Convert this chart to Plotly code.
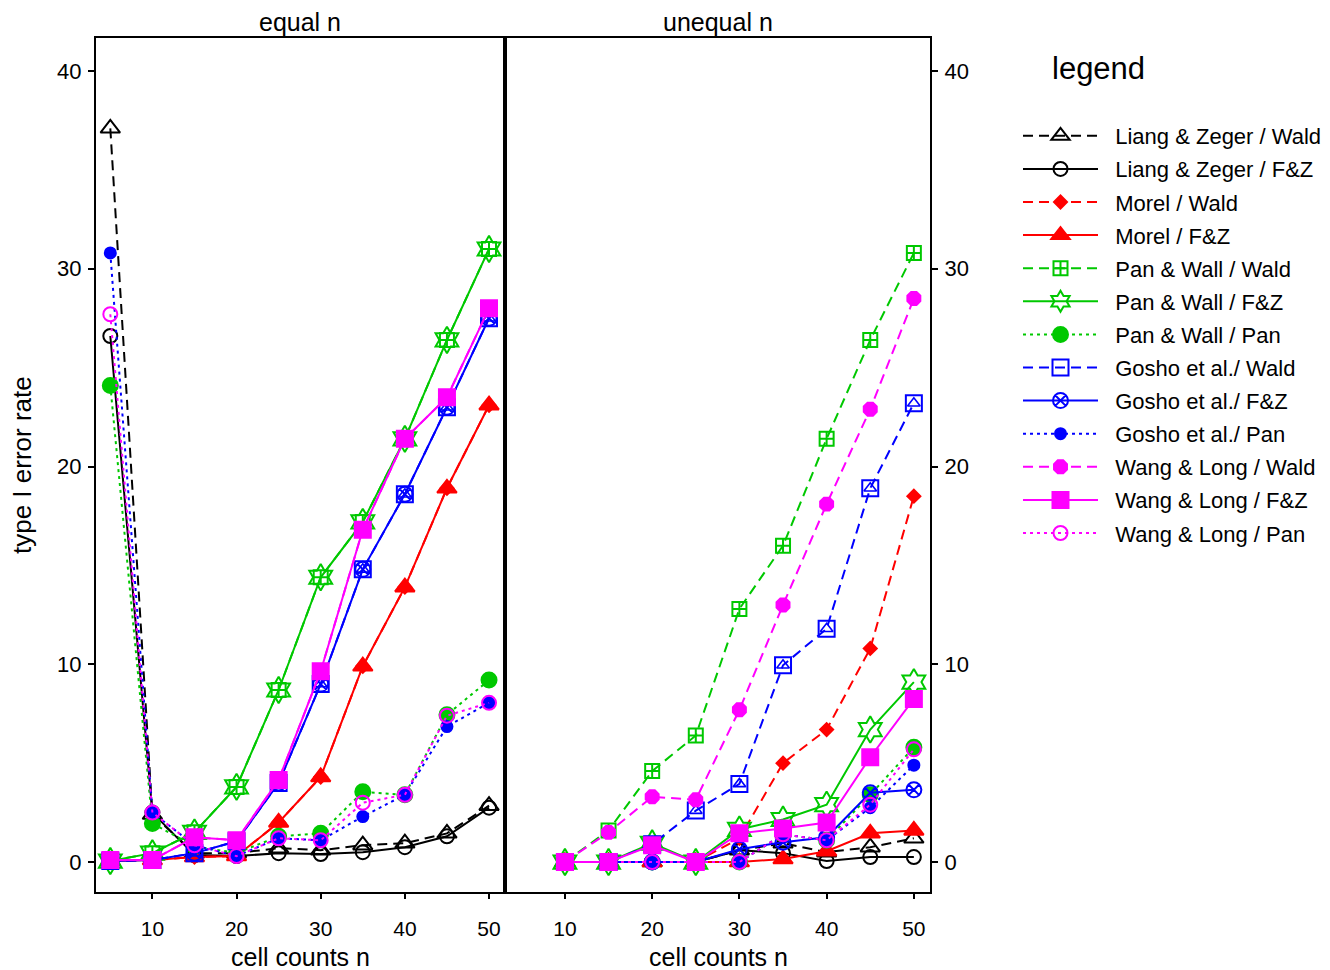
import plotly.graph_objects as go

# ---------------- data ----------------
x_equal = [5, 10, 15, 20, 25, 30, 35, 40, 45, 50]
x_unequal = [10, 15, 20, 25, 30, 35, 40, 45, 50]

# equal n panel
eq_lz_wald = [37.1, 2.4, 0.45, 0.45, 0.7, 0.6, 0.85, 0.95, 1.45, 2.85]
eq_lz_fz = [26.6, 2.5, 0.35, 0.3, 0.45, 0.4, 0.5, 0.75, 1.3, 2.75]
eq_morel_wald = [0.05, 0.1, 0.25, 0.3, 2.0, 4.3, 9.9, 13.9, 18.9, 23.1]
eq_morel_fz = [0.05, 0.1, 0.25, 0.3, 2.0, 4.3, 9.9, 13.9, 18.9, 23.1]
eq_pw_wald = [0.05, 0.45, 1.5, 3.8, 8.7, 14.4, 17.2, 21.4, 26.4, 31.0]
eq_pw_fz = [0.05, 0.45, 1.5, 3.8, 8.7, 14.4, 17.2, 21.4, 26.4, 31.0]
eq_pw_pan = [24.1, 1.95, 0.8, 0.45, 1.3, 1.45, 3.55, 3.4, 7.45, 9.2]
eq_gosho_wald = [0.05, 0.1, 0.45, 1.05, 4.0, 9.0, 14.8, 18.6, 23.0, 27.5]
eq_gosho_fz = [0.05, 0.1, 0.45, 1.05, 4.0, 9.0, 14.8, 18.6, 23.0, 27.5]
eq_gosho_pan = [30.8, 2.5, 0.85, 0.3, 1.2, 1.1, 2.3, 3.4, 6.85, 8.05]
eq_wl_wald = [0.1, 0.1, 1.25, 1.1, 4.15, 9.65, 16.8, 21.4, 23.5, 28.0]
eq_wl_fz = [0.1, 0.1, 1.25, 1.1, 4.15, 9.65, 16.8, 21.4, 23.5, 28.0]
eq_wl_pan = [27.7, 2.5, 0.85, 0.3, 1.2, 1.1, 3.0, 3.4, 7.4, 8.05]

# unequal n panel
un_lz_wald = [0, 0, 0, 0, 0.6, 0.95, 0.5, 0.75, 1.2]
un_lz_fz = [0, 0, 0, 0, 0.6, 0.45, 0.05, 0.25, 0.25]
un_morel_wald = [0, 0, 0, 0, 1.2, 5.0, 6.7, 10.8, 18.5]
un_morel_fz = [0, 0, 0, 0, 0, 0.15, 0.55, 1.45, 1.6]
un_pw_wald = [0, 1.6, 4.6, 6.4, 12.8, 16.0, 21.4, 26.4, 30.8]
un_pw_fz = [0, 0, 0.95, 0, 1.65, 2.15, 2.9, 6.7, 9.1]
un_pw_pan = [0, 0, 0, 0, 0, 1.4, 1.1, 3.4, 5.8]
un_gosho_wald = [0, 0, 0.9, 2.6, 3.95, 9.95, 11.8, 18.9, 23.2]
un_gosho_fz = [0, 0, 0, 0, 0.65, 1.0, 1.25, 3.5, 3.65]
un_gosho_pan = [0, 0, 0, 0, 0, 1.4, 1.1, 2.75, 4.9]
un_wl_wald = [0, 1.5, 3.3, 3.15, 7.7, 13.0, 18.1, 22.9, 28.5]
un_wl_fz = [0, 0, 0.85, 0, 1.45, 1.7, 2.0, 5.3, 8.25]
un_wl_pan = [0, 0, 0, 0, 0, 1.4, 1.1, 2.9, 5.7]

series_names = [
    "Liang & Zeger / Wald", "Liang & Zeger / F&Z",
    "Morel / Wald", "Morel / F&Z",
    "Pan & Wall / Wald", "Pan & Wall / F&Z", "Pan & Wall / Pan",
    "Gosho et al./ Wald", "Gosho et al./ F&Z", "Gosho et al./ Pan",
    "Wang & Long / Wald", "Wang & Long / F&Z", "Wang & Long / Pan",
]
equal_values = [eq_lz_wald, eq_lz_fz, eq_morel_wald, eq_morel_fz, eq_pw_wald, eq_pw_fz,
                eq_pw_pan, eq_gosho_wald, eq_gosho_fz, eq_gosho_pan, eq_wl_wald, eq_wl_fz,
                eq_wl_pan]
unequal_values = [un_lz_wald, un_lz_fz, un_morel_wald, un_morel_fz, un_pw_wald, un_pw_fz,
                  un_pw_pan, un_gosho_wald, un_gosho_fz, un_gosho_pan, un_wl_wald, un_wl_fz,
                  un_wl_pan]

# ---------------- styles ----------------
BLACK, RED, GREEN, BLUE, MAG = "#000000", "#FF0000", "#00C800", "#0000FF", "#FF00FF"
DASH, SOLID, DOT = "10px,6px", "solid", "3px,4px"
styles = [
    (BLACK, DASH, "triangle-up-open", 17),
    (BLACK, SOLID, "circle-open", 14),
    (RED, DASH, "diamond", 10),
    (RED, SOLID, "triangle-up", 17),
    (GREEN, DASH, "square-cross-open", 14),
    (GREEN, SOLID, "hexagram-open", 20),
    (GREEN, DOT, "circle", 15),
    (BLUE, DASH, "square-open", 16),
    (BLUE, SOLID, "circle-x-open", 15),
    (BLUE, DOT, "circle", 11),
    (MAG, DASH, "octagon", 14),
    (MAG, SOLID, "square", 16),
    (MAG, DOT, "circle-open", 14),
]

FONT = "Liberation Sans, Arial, Helvetica, sans-serif"
PAD = "\u00a0\u00a0"  # small gap between legend symbol and its text

# page body adds an 8px margin; place everything in reference pixel coordinates
OFF = 8
FW, FH = 1322, 962


def fx(px):
    return (px - OFF) / FW


def fy(py):
    return 1 - (py - OFF) / FH


fig = go.Figure()

for i, name in enumerate(series_names):
    color, dash, symbol, size = styles[i]
    for panel, (xs, ys) in enumerate([(x_equal, equal_values[i]), (x_unequal, unequal_values[i])]):
        xa, ya = ("x", "y") if panel == 0 else ("x2", "y2")
        fig.add_trace(go.Scatter(
            x=xs, y=ys, xaxis=xa, yaxis=ya, name=PAD + name, legendgroup=name,
            showlegend=(panel == 0), mode="lines+markers",
            line=dict(color=color, width=2, dash=dash),
            marker=dict(symbol=symbol, size=size, color=color,
                        line=dict(color=color, width=2)),
        ))
        if name == "Gosho et al./ Wald":
            fig.add_trace(go.Scatter(
                x=xs, y=ys, xaxis=xa, yaxis=ya, name=name, legendgroup=name,
                showlegend=False, mode="markers", hoverinfo="skip",
                marker=dict(symbol="triangle-up-open", size=11, color=color,
                            line=dict(color=color, width=1.6)),
            ))

y_dom = [fy(891.5), fy(38)]
yr = [-1.49, 41.67]
axis_common = dict(showgrid=False, zeroline=False, showline=True, linecolor="black",
                   linewidth=2, mirror=True, ticks="outside", tickcolor="black",
                   tickwidth=2)
tick_font = dict(family=FONT, size=22, color="black")
x_tick_font = dict(family=FONT, size=21, color="black")

fig.update_layout(
    width=FW, height=FH, margin=dict(l=0, r=0, t=0, b=0),
    paper_bgcolor="white", plot_bgcolor="white",
    font=dict(family=FONT, color="black"),
    xaxis=dict(domain=[fx(96), fx(502.5)], range=[3.3, 51.6], anchor="y",
               tickvals=[10, 20, 30, 40, 50], ticklen=5, ticklabelstandoff=12,
               tickfont=x_tick_font, **axis_common),
    yaxis=dict(domain=y_dom, range=yr, anchor="x", tickvals=[0, 10, 20, 30, 40],
               ticklen=6, ticklabelstandoff=2, tickfont=tick_font, **axis_common),
    xaxis2=dict(domain=[fx(506.5), fx(930)], range=[3.3, 51.85], anchor="y2",
                tickvals=[10, 20, 30, 40, 50], ticklen=5, ticklabelstandoff=12,
                tickfont=x_tick_font, **axis_common),
    yaxis2=dict(domain=y_dom, range=yr, anchor="x2", side="right",
                tickvals=[0, 10, 20, 30, 40], ticklen=6, ticklabelstandoff=2,
                tickfont=tick_font, **axis_common),
    legend=dict(x=fx(1018), xanchor="left", y=fy(115), yanchor="top",
                font=dict(family=FONT, size=22, color="black"), itemwidth=75,
                tracegroupgap=1.5, bgcolor="rgba(0,0,0,0)", traceorder="grouped"),
    showlegend=True,
)

ann = [
    dict(text="equal n", x=fx(300), y=fy(22)),
    dict(text="unequal n", x=fx(718), y=fy(22)),
    dict(text="cell counts n", x=fx(300), y=fy(956.5)),
    dict(text="cell counts n", x=fx(718), y=fy(956.5)),
]
for a in ann:
    fig.add_annotation(xref="paper", yref="paper", showarrow=False, xanchor="center",
                       yanchor="middle", font=dict(family=FONT, size=25, color="black"), **a)
fig.add_annotation(text="type I error rate", xref="paper", yref="paper", x=fx(22),
                   y=fy(465), textangle=-90, showarrow=False, xanchor="center",
                   yanchor="middle", font=dict(family=FONT, size=26, color="black"))
fig.add_annotation(text="legend", xref="paper", yref="paper", x=fx(1050), y=fy(68),
                   showarrow=False, xanchor="left", yanchor="middle",
                   font=dict(family=FONT, size=31, color="black"))

fig.write_html("out.html")
